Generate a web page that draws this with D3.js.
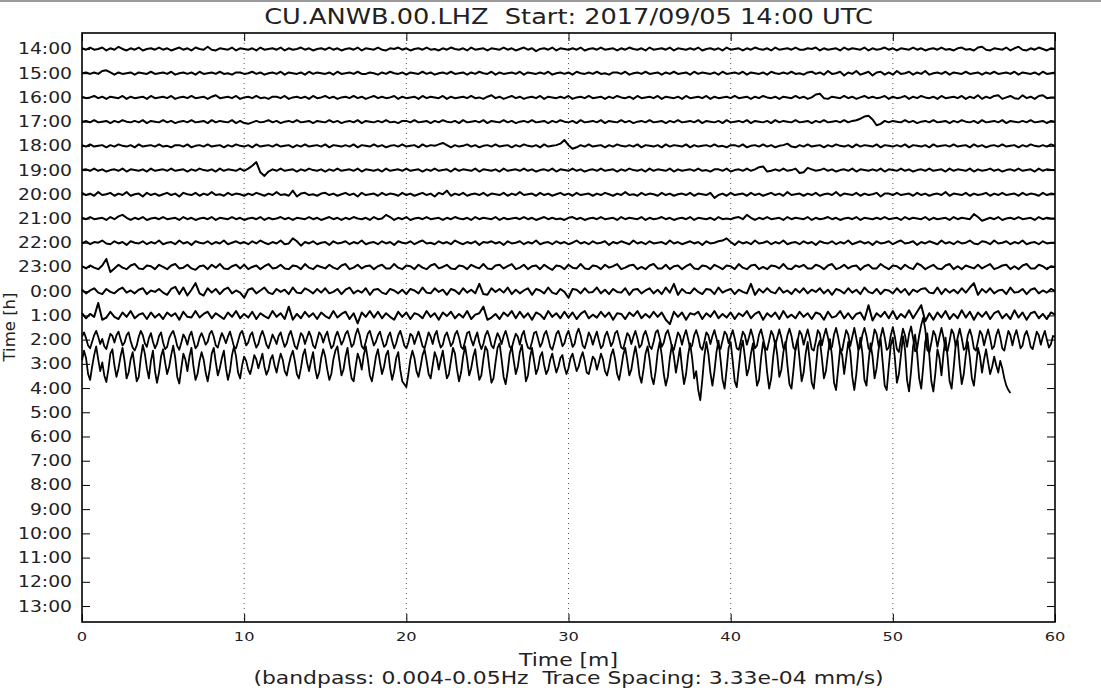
<!DOCTYPE html>
<html><head><meta charset="utf-8">
<script src="https://cdn.jsdelivr.net/npm/d3@7"></script>
<style>
body{margin:0;background:#fff;}
text{font-family:"DejaVu Sans",sans-serif;fill:#222;white-space:pre;}
</style>
</head><body>
<svg id="chart" width="1101" height="688"></svg>
<script>
// ---------- data ----------
const titleText = "CU.ANWB.00.LHZ  Start: 2017/09/05 14:00 UTC";
const xLabel = "Time [m]";
const xLabel2 = "(bandpass: 0.004-0.05Hz  Trace Spacing: 3.33e-04 mm/s)";
const yLabel = "Time [h]";
const hourLabels = ["14:00","15:00","16:00","17:00","18:00","19:00","20:00","21:00","22:00","23:00",
  "0:00","1:00","2:00","3:00","4:00","5:00","6:00","7:00","8:00","9:00","10:00","11:00","12:00","13:00"];
const xTicks = [0,10,20,30,40,50,60];
const traceSpacing = 33.3;   // data units (1e-5 mm/s) per trace row

const h14 = [1,-1,2,-1,0,2,-2,1,-1,3,0,-2,1,-1,2,-2,0,1,-1,2,
-1,1,-2,0,2,-1,1,-2,2,0,-1,3,-1,-2,1,0,-1,2,-2,1,
0,-1,1,-2,2,-1,0,1,-1,2,-2,1,-1,0,2,-1,1,-2,0,1,
-1,2,-1,1,-2,0,1,-1,2,-2,1,0,-1,2,-1,-2,1,0,2,-1,
1,-2,0,1,-1,2,-1,0,-2,1,-1,2,0,-1,1,-2,2,-1,0,1,
-2,1,0,-1,2,-1,1,-2,0,2,-1,1,-3,0,1,-1,2,-2,1,0,
-1,1,-1,2,-2,0,1,-1,2,-1,0,1,-2,1,-1,2,0,-1,1,-2,
2,-1,0,1,-1,2,-2,1,0,-1,1,-1,2,-2,0,1,-1,1,-2,2,
-1,0,1,-2,1,-1,2,0,-1,1,-2,2,-1,0,1,-1,2,-1,-1,1,
0,2,-2,1,-1,0,1,-2,2,-1,1,0,-1,2,-2,1,-1,0,2,-1,
1,-2,1,0,-1,2,-1,1,-2,0,1,-1,2,-1,0,-2,1,2,-1,0,
-2,2,3,-1,-2,1,0,-1,2,-2,1,3,-1,-2,1,-1,2,0,-2,1,0];
const h15 = [0,1,-1,1,-1,3,4,1,-2,1,-1,0,1,-2,1,0,-1,2,-1,0,
1,-1,2,-2,0,1,-1,1,-2,2,-1,0,1,-1,2,-1,0,-2,1,1,
-1,0,2,-1,1,-2,0,1,-1,2,-2,1,0,-1,1,-2,2,-1,1,0,
-1,1,-2,2,-1,0,1,-1,2,-1,-1,1,0,-2,1,-1,2,0,-1,1,
-2,1,0,-1,2,-1,1,-2,0,1,-1,2,-1,0,1,-2,1,-1,2,0,
-1,2,-2,1,-1,0,1,-1,2,-2,1,0,-1,1,-1,2,-2,0,1,-1,
1,-2,2,0,-1,1,-1,2,-1,0,-2,1,1,-1,2,-2,0,1,-1,2,
-1,0,1,-2,1,-1,2,-1,0,1,-2,2,-1,1,0,-1,1,-2,2,-1,
0,1,-1,2,-2,1,0,-1,1,-2,2,0,-1,1,-1,2,-1,0,-2,1,
2,-1,1,-2,3,-1,0,2,-3,1,-1,3,-2,0,2,-3,1,2,-2,1,
-2,3,-1,0,2,-2,1,-1,3,-2,0,1,-1,2,-2,1,0,-1,2,-1,
0,1,-2,1,-1,2,-1,0,1,-1,2,-2,1,0,-1,1,-2,2,-1,0,1];
const h16 = [1,-1,0,2,-1,1,-2,1,0,-1,2,-2,1,-1,0,1,-2,2,-1,0,
1,-1,2,-2,0,1,-1,2,-1,0,1,-2,1,3,-1,0,1,-1,2,-2,
0,1,-1,2,-1,0,-2,1,1,-1,2,-2,0,1,-1,1,-2,2,-1,0,
2,-1,1,-2,0,1,-1,2,-1,1,-2,0,2,-1,1,-1,0,2,-2,1,
-1,0,1,-2,2,-1,1,0,-1,2,-2,1,-1,0,1,-1,2,-1,0,-2,
1,3,-1,1,-2,0,2,-1,1,-2,0,1,-1,2,-2,1,0,-1,1,-1,
2,-2,0,1,-1,2,-1,0,1,-2,1,-1,2,0,-1,1,-2,2,-1,0,
1,-1,2,-2,1,0,-1,1,-2,2,-1,0,1,-1,2,-2,1,-1,0,1,
-1,2,-1,0,1,-2,1,-1,2,0,-1,1,-2,1,0,-1,2,-1,1,-2,
0,4,5,-1,-2,1,0,-1,2,-1,1,-2,0,2,-1,1,-1,0,2,-2,
1,-1,0,2,-2,1,-1,2,0,-1,1,-2,2,-1,0,1,-1,2,-2,1,
-1,3,-2,1,-1,2,3,-2,0,2,-1,-2,3,-1,1,-2,2,3,-1,0,0];
const h17 = [0,1,-1,2,-1,0,1,-2,1,-1,2,0,-1,1,-1,2,-2,1,0,-1,
2,-1,1,-2,0,1,-1,2,-1,0,1,-2,2,-1,1,0,-1,2,-2,1,
-2,-3,-1,1,-1,0,2,-1,1,-2,0,1,-1,2,-1,0,1,-2,1,0,
-1,2,-1,1,-2,0,1,-1,2,-2,1,0,-1,1,-1,2,-1,0,-2,1,
1,-1,2,-1,0,1,-2,1,-1,2,0,-1,1,-2,2,-1,0,1,-1,2,
-2,1,0,-1,2,-1,1,-2,0,1,-1,2,-1,0,1,-2,1,-1,2,0,
-1,1,-2,2,-1,0,1,-1,2,-2,1,0,-1,2,-1,1,-2,0,1,-1,
2,-1,0,1,-2,1,-1,2,-1,0,1,-1,2,-2,1,0,-1,1,-2,2,
-1,0,1,-1,2,-2,1,0,-1,1,-2,2,-1,1,0,-1,2,-1,0,1,
-2,1,-1,2,-1,0,1,-1,2,-1,1,2,4,7,8,3,-5,-3,1,-1,
1,0,-1,2,-1,1,-2,0,1,-1,2,-1,0,1,-2,1,-1,2,0,-1,
1,-2,2,-1,0,1,-1,2,-2,1,0,-1,1,-1,2,-1,0,1,-2,1,0];
const h18 = [1,-1,2,-1,0,1,-2,1,-1,2,0,-1,1,-2,2,-1,0,1,-1,2,
-1,0,-2,1,1,-1,2,-2,0,1,-1,2,-1,0,1,-2,1,-1,2,0,
-1,1,-2,2,-1,0,1,-1,2,-1,0,1,-2,1,-1,2,-1,0,1,-1,
2,-2,1,0,-1,1,-1,2,-2,1,0,-1,2,-1,1,-2,0,1,-1,2,
-1,0,1,-2,2,-1,1,0,2,4,1,-2,1,-1,0,2,-1,1,-2,0,
1,-1,2,-1,0,1,-2,1,-1,2,0,-1,1,-2,2,-1,0,1,3,8,
1,-4,-2,1,-1,2,-1,0,1,-2,1,-1,2,0,-1,1,-1,2,-2,1,
0,-1,1,-2,2,-1,1,0,-1,2,-2,1,-1,0,1,-1,2,-1,0,-2,
1,1,-1,2,-2,0,1,-1,2,-1,1,-2,0,1,3,-1,-2,1,-1,2,
-1,0,1,-2,1,-1,2,0,-1,1,-2,2,-1,1,0,-1,2,-2,1,0,
-1,1,-1,2,-2,1,0,-1,1,-2,2,-1,0,1,-1,2,-1,0,1,-2,
2,-1,1,-2,0,1,-1,2,-1,0,1,-2,1,-1,2,0,-1,1,-1,2,0];
const h19 = [0,1,-1,2,-1,1,-2,0,1,-1,2,-2,1,0,-1,1,-2,2,-1,0,
1,-1,2,-1,0,1,-2,1,-1,2,0,-1,1,-2,2,-1,1,0,-1,2,
-1,2,6,11,-3,-8,-2,1,-1,2,-1,0,1,-2,1,-1,2,0,-1,1,
-2,1,-1,2,-1,0,1,-1,2,-2,1,0,-1,1,-2,2,-1,0,1,-1,
2,-1,0,1,-2,1,-1,2,-1,0,1,-2,2,-1,1,0,-1,2,-2,1,
0,-1,1,-2,2,-1,0,1,-1,2,-1,1,-2,0,1,-1,2,-2,1,0,
-1,2,-1,1,-2,0,1,-1,2,-1,0,1,-2,1,-1,2,0,-1,1,-2,
2,-1,1,0,-1,2,-2,1,-1,0,1,-1,2,-1,0,-2,1,1,-1,2,
-2,0,1,-1,2,-1,1,4,5,-2,-1,1,-1,2,-1,0,2,-4,-3,3,
1,-1,0,2,-1,1,-2,0,1,-1,2,-2,1,0,-1,1,-1,2,-2,1,
0,-1,2,-1,1,-2,0,1,-1,2,-1,0,1,-2,2,-1,1,0,-1,2,
-2,1,-1,0,2,-1,1,-2,0,1,-1,2,-1,0,1,-2,2,-1,1,0,0];
const h20 = [2,-1,1,-2,3,-1,0,2,-2,1,-1,3,-2,0,1,-3,2,-1,1,-2,
0,2,-1,1,-3,2,0,-1,2,-2,1,-1,3,-1,0,-2,2,-1,1,0,
-2,1,-1,2,0,-2,1,-1,3,-1,0,-2,5,-3,1,2,-1,0,-2,1,
2,-1,1,-2,0,2,-1,1,-3,2,-1,0,1,-2,2,-1,1,0,-2,2,
-1,1,-2,0,2,-1,1,-3,2,0,5,-2,1,-1,2,-2,0,1,-1,2,
-2,1,0,-1,2,-2,1,-1,3,-1,0,1,-2,2,-1,1,-2,0,2,-1,
1,-2,2,-1,0,1,-2,1,-1,2,0,-2,1,-1,3,-1,0,-2,2,-1,
1,0,-2,2,-1,1,-2,0,1,-1,2,-2,1,0,-1,2,-5,-1,1,-2,
2,-1,0,1,-2,2,-1,1,-2,0,2,-1,1,-2,3,-1,0,1,-2,1,
-1,2,-2,0,1,-1,3,-2,1,0,-1,2,-2,1,-1,0,2,-3,1,1,
-1,2,-1,0,1,-2,2,-1,1,-2,0,1,-1,3,-2,1,0,-1,2,-2,
1,-1,0,2,-2,1,-1,2,-1,0,1,-2,2,-1,1,0,-2,2,-1,1,0];
const h21 = [1,-1,2,-1,0,1,-2,2,-1,3,5,1,-2,1,-1,2,-2,0,1,-1,
2,-1,0,1,-2,2,-1,1,-2,0,1,-1,2,-2,1,0,-1,2,-1,1,
-2,0,1,-1,2,-2,1,-1,0,2,-1,1,-2,1,0,-1,2,-1,1,-2,
0,2,-1,1,-2,1,-1,2,0,-1,1,-2,2,-1,0,5,2,-2,1,-1,
2,-2,0,1,-1,2,-1,0,1,-2,1,-1,2,0,-1,1,-2,2,-1,1,
0,-1,2,-2,1,-1,0,1,-1,2,-1,1,-2,0,2,-1,1,-1,0,-2,
1,2,-1,1,-2,0,1,-1,2,-1,0,1,-2,2,-1,1,0,-1,2,-2,
1,-1,0,2,-1,1,-2,0,1,-1,2,-2,1,0,-1,1,-2,2,-1,0,
-1,1,2,-1,5,1,-2,1,-1,2,-1,0,1,-2,2,-1,1,0,-1,2,
-2,1,-1,0,2,-1,1,-2,0,1,-1,2,-2,1,0,-1,1,-1,2,-1,
0,1,-2,2,-1,1,0,-1,2,-2,1,-1,0,1,-2,2,-1,1,0,-1,
6,2,-3,-1,1,-1,2,-2,0,1,-1,2,-1,0,1,-2,2,-1,1,0,0];
const h22 = [-1,2,-2,1,0,3,-1,-2,2,-1,1,-3,2,0,-1,2,-2,1,-1,3,
-2,0,1,-2,3,-1,1,-3,2,0,-1,2,-2,1,-1,3,-2,0,2,-1,
1,-2,2,-1,3,0,-2,1,-1,3,-2,-1,6,2,-4,1,-1,2,-2,0,
1,-3,2,-1,0,2,-2,1,-1,3,-2,0,1,-2,2,-1,1,-3,2,0,
-1,2,-2,1,3,-1,0,-2,2,-1,1,-2,3,0,-2,1,-1,2,-3,1,
0,2,-1,1,-3,2,-1,0,2,-2,1,-1,3,-2,0,1,-2,2,-1,1,
-2,0,3,-1,1,-2,2,-1,0,2,-3,1,-1,2,0,-2,3,-1,1,-2,
2,-1,0,1,-2,3,-1,1,-2,0,2,-1,1,-3,2,-1,0,2,3,6,
1,-3,2,-1,1,-2,3,-1,0,2,-2,1,-1,3,-2,0,1,-2,2,-1,
1,-3,2,0,-1,2,-2,1,-1,3,-2,0,2,-1,1,-3,2,-1,0,2,
-2,1,3,-1,0,2,-3,1,-1,2,0,-2,3,-1,1,-2,2,-1,0,3,
-1,-2,2,1,-2,3,-1,0,2,-2,1,-1,3,-2,0,1,-2,2,-1,0,0];
const h23 = [1,-2,2,-1,-3,2,11,-7,-2,3,-1,-3,2,4,-2,-3,2,1,-3,3,
0,-3,2,4,-2,-1,3,-2,-4,1,2,-3,3,-1,4,-2,-3,1,3,-2,
3,-3,0,2,-3,1,4,-2,-1,3,-2,-3,2,1,-3,4,-1,-3,2,0,
-2,3,-1,-3,2,4,-3,-1,3,-2,1,2,-3,1,3,-2,-2,4,-1,-3,
2,1,-3,3,-1,-3,2,4,-2,0,3,-2,-3,2,1,-3,3,0,-2,4,
-2,-3,2,3,-2,1,4,-3,-1,3,-3,1,2,-3,3,-1,-4,2,1,-3,
3,-1,-2,4,-2,-3,2,1,-3,3,-1,1,4,-3,-1,2,3,-3,0,-3,
2,4,-2,-2,3,-3,1,2,-3,1,4,-2,-3,2,1,-3,3,0,-3,2,
1,-3,4,-1,-3,2,3,-3,0,-3,2,1,-2,4,-2,-3,2,0,3,-2,
-2,3,1,-3,2,4,-3,-1,3,-2,1,2,-4,1,3,-2,-2,4,0,-3,
2,1,-3,3,-1,-3,5,2,-3,0,3,-2,-3,2,4,-3,1,-3,2,0,
-2,3,-2,1,4,-3,-1,2,3,-3,1,-3,2,4,-2,-2,3,1,-3,1,0];
const h00 = [2,-3,1,4,-2,-4,3,-1,-3,2,5,-2,1,-3,2,4,-4,1,-1,3,
-2,-5,3,6,-4,5,-6,2,11,-3,-6,4,-2,3,-4,2,5,-3,1,-2,
-9,2,4,-3,1,5,-2,-4,3,-1,2,-4,5,-2,-3,4,1,-3,3,-2,
4,-3,-1,3,-4,2,5,-3,1,-2,4,-5,2,3,-2,-4,3,1,-3,2,
-4,3,1,-3,5,-2,-3,4,-1,2,-5,3,1,-4,4,-2,2,-3,10,-4,
-5,4,-1,3,-2,5,-4,2,-3,1,4,-5,3,1,-3,5,-2,-4,3,-1,
-9,3,2,-3,4,-2,-1,5,-3,2,-4,3,-1,-2,4,-5,2,3,-3,1,
4,-3,2,-4,5,-2,10,-5,3,-2,-3,4,-1,-4,3,2,-4,5,-2,1,
3,-4,2,-1,-3,10,-5,3,-2,4,-1,-3,5,-2,1,-4,3,-2,4,-3,
2,-1,4,-3,2,-5,3,1,-3,4,-2,2,-4,5,-1,-3,3,-4,2,1,
-3,4,-2,3,-5,2,-1,3,4,-2,-3,5,-4,3,-2,2,-3,4,-2,5,
11,-5,3,-2,4,-3,1,2,-4,5,-2,-1,3,-4,2,4,-3,1,-2,3,0];
const h01 = [3,-4,2,-2,17,-6,-3,5,-2,-5,4,-2,6,-4,1,3,-5,4,-3,2,
-5,4,-1,3,-6,5,-2,-3,6,-3,2,5,-4,3,-1,-5,4,-2,6,-4,
2,-3,5,-5,3,-1,-4,6,-2,3,-5,12,-6,2,-4,5,-2,3,-5,4,
-1,-4,6,-3,2,5,-5,3,-11,4,-2,6,-3,5,-4,3,-2,-6,5,-2,
4,-5,3,1,-4,6,-2,3,-6,4,-1,5,-4,2,-3,6,-5,1,3,12,
-6,-3,2,-5,4,-1,6,-4,5,-3,3,-6,4,1,-5,6,-2,3,-4,5,
-3,4,-5,2,6,-4,1,-3,5,-2,4,-6,3,2,-5,4,-1,6,-4,2,
-3,5,-2,4,-6,-12,5,-2,4,-6,3,1,5,-5,3,-2,6,-4,2,-3,
4,-5,3,-1,6,-4,2,5,-6,3,-2,4,-5,6,-3,1,-4,5,-2,3,
-5,4,2,-6,5,-3,-1,6,-4,3,-5,2,4,-6,14,-7,3,-2,5,-4,
6,-5,2,-3,7,-4,5,14,-8,3,-6,4,-3,6,-5,2,-4,7,-3,5,
-6,4,-2,5,-5,3,6,-4,2,-5,7,-3,4,-6,3,5,-4,2,-5,4,1];
const h02 = [4,10,2,-8,-12,-3,6,12,4,-6,1,-9,-13,-2,8,5,-4,6,11,1,
-8,-4,6,10,-2,-11,-15,-8,4,12,6,-5,-10,2,9,-3,-12,-6,5,10,
-4,-13,-10,2,8,12,3,-9,-14,-4,7,2,-7,5,11,-1,-12,-8,3,9,
2,-7,-3,8,12,4,-8,-11,0,9,3,-5,4,11,1,-10,-12,-2,8,12,
3,-8,-4,6,10,-2,-11,-6,5,12,4,-7,-12,-3,7,1,-6,5,10,-1,
-10,-5,6,12,2,-9,-13,-2,9,5,-6,3,11,4,-8,-12,-1,10,6,-4,
5,11,-2,-12,-8,4,11,3,-7,-1,8,12,2,-10,-6,7,15,6,-9,-13,
-3,8,12,2,-8,-3,6,11,0,-10,-7,4,10,-2,-12,-5,6,12,3,-8,
-12,-4,8,5,-6,3,11,2,-9,-12,-1,10,4,-6,6,12,-2,-11,-7,5,
10,1,-9,-4,7,12,3,-10,-13,-2,9,11,0,-8,2,10,-4,-13,-6,6,
12,4,-8,-12,0,9,3,-6,5,12,2,-10,-12,-1,8,4,-7,6,12,-2,
-11,-13,-3,9,11,1,-10,-4,7,12,2,-10,-14,-4,8,12,3,-9,-5,6,
12,2,-10,-6,8,15,6,-8,-12,-2,10,4,-7,3,11,-1,-12,-8,5,11,
2,-9,-3,9,12,1,-11,-13,-2,9,5,-6,4,12,2,-11,-7,6,12,3,
-9,-13,-3,10,13,2,-10,-4,8,13,3,-10,-14,-2,10,5,-7,5,13,1,
-12,-8,6,13,4,-10,-14,-3,10,6,-6,5,13,2,-11,-13,-1,11,7,-5,
4,13,2,-12,-14,-2,11,6,-7,3,14,4,-12,-8,7,14,2,-11,-14,-1,
12,6,-8,3,14,3,-12,-9,6,15,5,-11,-14,-2,12,7,-7,4,14,2,
-13,-15,-2,13,8,-8,5,15,3,-13,-10,7,16,4,-12,-15,0,13,7,-9,
4,16,2,-14,-10,7,16,5,-12,-16,-2,14,8,-9,4,16,3,-14,-11,6,
17,4,-13,-17,0,15,6,-10,8,18,2,-16,-12,6,20,30,14,-14,-18,-4,
12,6,-10,4,16,3,-14,-16,-2,14,8,-9,3,15,2,-14,-11,6,14,4,
-12,-15,-2,12,7,-8,4,14,2,-13,-9,6,14,3,-12,-15,-1,12,6,-8,
5,13,1,-12,-8,6,12,3,-10,-13,-1,11,6,-7,4,12,0,-11,-6,5,4];
const h03 = [5,18,8,-14,-22,-4,12,24,6,-10,2,-16,-25,-8,14,20,-2,-18,-6,10,
22,4,-20,-12,6,16,-4,-24,-18,8,26,14,-6,-20,4,18,-10,-26,-12,10,
20,2,-14,-4,12,25,8,-18,-27,-6,14,6,-10,10,22,-4,-22,-14,4,16,
6,-12,-24,-8,14,22,2,-16,-6,8,18,-6,-22,-10,12,24,10,-12,-20,-2,
10,4,-8,-14,-2,12,6,-6,4,14,-4,-15,-8,6,12,-2,-12,2,14,6,
-10,-16,-2,10,18,4,-14,-20,-6,12,20,2,-10,4,16,-6,-20,-12,8,20,
10,-8,-22,-14,6,18,24,4,-16,-8,10,22,-2,-20,-24,-4,14,6,-8,12,
24,6,-16,-24,-8,10,20,2,-14,-4,12,18,-6,-22,-10,8,16,-8,-24,-28,
-32,-14,6,18,8,-10,-18,-4,12,20,4,-14,-20,-2,16,8,-8,6,18,-2,
-20,-14,4,22,14,-8,-24,-12,10,24,6,-16,-6,10,20,-4,-22,-16,6,24,
18,-6,-26,-20,2,22,28,6,-18,-28,-10,14,24,4,-14,-4,16,26,2,-24,
-16,8,22,4,-14,-6,10,16,-2,-14,-8,6,14,0,-12,-4,8,12,-4,-14,
-6,8,14,2,-10,-4,8,16,4,-12,-14,-2,10,6,-8,2,14,6,-10,-16,
-4,12,20,6,-14,-22,-6,12,22,4,-16,-8,10,24,8,-16,-26,-8,14,24,
6,-18,-28,-10,16,30,12,-14,-30,-18,8,26,10,-12,4,22,-6,-28,-14,12,
28,8,-20,-10,-36,-50,-22,10,30,14,-12,-30,-10,16,32,6,-22,-34,-8,22,
30,4,-24,-32,-6,20,32,10,-16,-6,14,28,-4,-30,-22,8,30,18,-12,-34,
-20,10,32,12,-18,-8,16,30,-2,-28,-34,-8,22,34,6,-24,-12,14,30,4,
-26,-34,-6,24,32,8,-20,-10,14,34,10,-26,-36,-8,20,12,-14,8,30,16,
-18,-36,-14,18,36,14,-22,-30,2,28,10,-20,-6,20,34,2,-30,-36,-4,26,
36,8,-26,-14,12,38,20,-22,-38,-10,24,40,14,-20,-34,-4,30,42,12,-24,
-38,-12,20,8,-16,14,36,10,-24,-34,-6,26,32,-2,-28,-14,12,30,8,-20,
-30,-4,22,10,-12,6,20,2,-14,-4,10,-2,-12,4,-6,-20,-30,-36,-40];

const traceValues = [h14,h15,h16,h17,h18,h19,h20,h21,h22,h23,h00,h01,h02,h03];
// minutes between samples for each trace
const traceSteps = [0.25,0.25,0.25,0.25,0.25,0.25,0.25,0.25,0.25,0.25,0.25,0.25,0.125,0.125];

// ---------- layout ----------
const W = 1101;
const L = 82, R = 1055, T = 33, B = 622;
const stretch = 1.25;   // reference text is horizontally wide

const svg = d3.select("#chart");
const x = d3.scaleLinear().domain([0, 60]).range([L, R]);
const y = d3.scaleLinear().domain([-0.66, 23.66]).range([T, B]);

function addText(px, py, str, size, anchor, rot) {
  const t = svg.append("text")
    .attr("x", rot ? 0 : px).attr("y", rot ? 0 : py)
    .attr("font-size", size).attr("text-anchor", anchor)
    .attr("xml:space", "preserve").text(str);
  if (rot) t.attr("transform", `translate(${px},${py}) rotate(-90)`);
  else {
    const w = t.node().getComputedTextLength();
    t.attr("textLength", w * stretch).attr("lengthAdjust", "spacingAndGlyphs");
  }
  return t;
}

// top grey figure line
svg.append("line").attr("x1", 0).attr("x2", W).attr("y1", 1).attr("y2", 1)
  .attr("stroke", "#9a9a9a").attr("stroke-width", 2);

// grid
svg.append("g").selectAll("line").data(xTicks.slice(1, -1)).join("line")
  .attr("x1", d => x(d)).attr("x2", d => x(d)).attr("y1", T).attr("y2", B)
  .attr("stroke", "#555").attr("stroke-width", 1).attr("stroke-dasharray", "1,4");

// traces
const line = d3.line().curve(d3.curveLinear);
const g = svg.append("g");
traceValues.forEach((vals, row) => {
  const step = traceSteps[row];
  const pts = vals.map((v, i) => [x(i * step), y(row - v / traceSpacing)]);
  g.append("path").attr("d", line(pts)).attr("fill", "none")
    .attr("stroke", "#000").attr("stroke-width", row < 12 ? 2.0 : 1.8)
    .attr("stroke-linejoin", "round");
});

// axes: tick marks inward on all sides (labels drawn separately)
const tickLen = 8;
const rows = d3.range(hourLabels.length);
const axB = d3.axisBottom(x).tickValues(xTicks).tickSizeInner(-tickLen).tickSizeOuter(0).tickFormat("");
const axT = d3.axisTop(x).tickValues(xTicks).tickSizeInner(-tickLen).tickSizeOuter(0).tickFormat("");
const axL = d3.axisLeft(y).tickValues(rows).tickSizeInner(-tickLen).tickSizeOuter(0).tickFormat("");
const axR = d3.axisRight(y).tickValues(rows).tickSizeInner(-tickLen).tickSizeOuter(0).tickFormat("");
function style(sel) {
  sel.select(".domain").remove();
  sel.selectAll(".tick line").attr("stroke", "#000").attr("stroke-width", 1);
  sel.selectAll("text").remove();
}
svg.append("g").attr("transform", `translate(0,${B})`).call(axB).call(style);
svg.append("g").attr("transform", `translate(0,${T})`).call(axT).call(style);
svg.append("g").attr("transform", `translate(${L},0)`).call(axL).call(style);
svg.append("g").attr("transform", `translate(${R},0)`).call(axR).call(style);

// tick labels
xTicks.forEach(d => addText(x(d), B + 19, String(d), 13, "middle"));
rows.forEach(i => addText(L - 10, y(i) + 5.5, hourLabels[i], 15, "end"));

// frame
svg.append("rect").attr("x", L).attr("y", T).attr("width", R - L).attr("height", B - T)
  .attr("fill", "none").attr("stroke", "#000").attr("stroke-width", 1.6);

// titles
addText((L + R) / 2, 24, titleText, 20.5, "middle");
addText((L + R) / 2, 666, xLabel, 17.5, "middle");
addText((L + R) / 2, 684, xLabel2, 17.5, "middle");
addText(15, 327, yLabel, 16.5, "middle", true);
</script>
</body></html>
